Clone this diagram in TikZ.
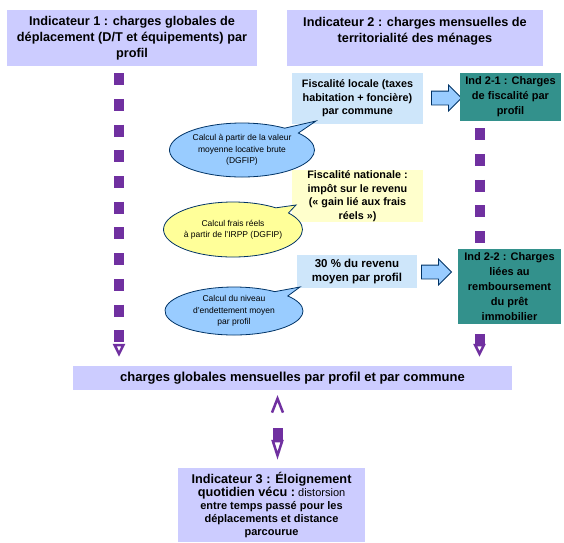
\documentclass[tikz,border=0pt]{standalone}
\usepackage{fontspec}
\setmainfont{Liberation Sans}
\usetikzlibrary{arrows.meta,shapes.arrows,shapes.callouts}
\definecolor{lavender}{RGB}{204,204,255}
\definecolor{paleblue}{RGB}{206,230,250}
\definecolor{paleyellow}{RGB}{255,255,204}
\definecolor{skyblue}{RGB}{153,204,255}
\definecolor{lemon}{RGB}{255,255,153}
\definecolor{navy}{RGB}{0,51,102}
\definecolor{tealbox}{RGB}{51,145,140}
\definecolor{purpleline}{RGB}{112,48,160}
\begin{document}
\begin{tikzpicture}[x=1pt, y=-1pt,
    indic/.style ={fill=lavender, align=center, inner sep=0pt, font=\fontsize{12.7}{16}\selectfont\bfseries},
    source/.style ={align=center, inner sep=0pt, font=\fontsize{10.8}{13.5}\selectfont\bfseries},
    result/.style ={fill=tealbox, align=center, inner sep=0pt, font=\fontsize{11}{15}\selectfont\bfseries},
    bubble/.style ={ellipse callout, draw=navy, thick, align=center, inner sep=0pt, font=\fontsize{8.5}{11.5}\selectfont},
    push/.style ={single arrow, draw=navy, thick, fill=skyblue, text height=13pt, text depth=0pt, minimum width=25pt,
      minimum height=30pt, single arrow head extend=6pt, single arrow head indent=0pt, inner sep=0pt},
    dashline/.style ={draw=purpleline, line width=10pt, dash pattern=on 12pt off 13.7pt, dash phase=18.7pt,
      -{Triangle[open, length=13pt, width=12pt, line width=2.5pt]}}]
   \useasboundingbox (0,0) rectangle (564,542);

   \node[indic, minimum width=250pt, minimum height=56pt] (I1) at (132,38) {Indicateur 1 : charges globales de\\déplacement (D/T et équipements) par\\profil};
   \node[indic, minimum width=256pt, minimum height=56pt] (I2) at (415,38) {Indicateur 2 : charges mensuelles de\\territorialité des ménages\\~};

   \node[source, fill=paleblue, minimum width=131pt, minimum height=51pt] (FL) at (357.5,98.5) {Fiscalité locale (taxes\\habitation + foncière)\\par commune};
   \node[push] (P1) at (443,98) {};
   \node[result, minimum width=101pt, minimum height=48pt] (I21) at (510.5,97) {Ind 2-1 : Charges\\de fiscalité par\\profil};
   \node[bubble, fill=skyblue, minimum width=145pt, minimum height=54pt, callout absolute pointer={(316,121)}] (E1) at (242,150) {Calcul à partir de la valeur\\moyenne locative brute\\(DGFIP)};

   \node[source, fill=paleyellow, minimum width=131pt, minimum height=52pt] (FN) at (357.5,196) {Fiscalité nationale :\\impôt sur le revenu\\(« gain lié aux frais\\réels »)};
   \node[bubble, fill=lemon, minimum width=133pt, minimum height=55pt, callout absolute pointer={(296,205)}] (E2) at (233,229.5) {Calcul frais réels\\à partir de l'IRPP (DGFIP)};

   \node[source, fill=paleblue, minimum width=120pt, minimum height=33pt, font=\fontsize{11.5}{14}\selectfont\bfseries] (R) at (357,271.5) {30 \% du revenu\\moyen par profil};
   \node[push] (P2) at (433,272) {};
   \node[bubble, fill=skyblue, minimum width=138pt, minimum height=48pt, callout absolute pointer={(300,287)}] (E3) at (234,311) {Calcul du niveau\\d'endettement moyen\\par profil};

   \node[indic, font=\fontsize{13}{14}\selectfont\bfseries, minimum width=439pt, minimum height=24pt] (Bar) at (292.5,378) {charges globales mensuelles par profil et par commune};
   \node[indic, font=\fontsize{11}{13}\selectfont\bfseries, minimum width=187pt, minimum height=74pt] (I3) at (271.5,505)
     {{\fontsize{12.7}{15}\selectfont Indicateur 3 : Éloignement}\\{\fontsize{12.7}{15}\selectfont quotidien vécu :}\ {\mdseries distorsion}\\entre temps passé pour les\\déplacements et distance\\parcourue};

   \draw[dashline, shorten >=9pt] ([xshift=-13]I1.south) -- ([xshift=-13]I1.south |- Bar.north);
   \draw[dashline, shorten >=9pt] ([xshift=-31]I21.south) -- ([xshift=-31]I21.south |- Bar.north);
   \draw[dashline, dash pattern=on 12pt off 60pt, dash phase=0pt, shorten <=8pt, shorten >=5pt,
     {Triangle[open, length=20pt, width=12pt, line width=2.5pt]}-{Straight Barb[length=14pt, width=11pt, line width=2.5pt]}]
     ([xshift=6]I3.north) -- ([xshift=6]I3.north |- Bar.south);

   \node[result, minimum width=103pt, minimum height=75pt] (I22) at (509.5,286.5) {Ind 2-2 : Charges\\liées au\\remboursement\\du prêt\\immobilier};

 \end{tikzpicture}
\end{document}
